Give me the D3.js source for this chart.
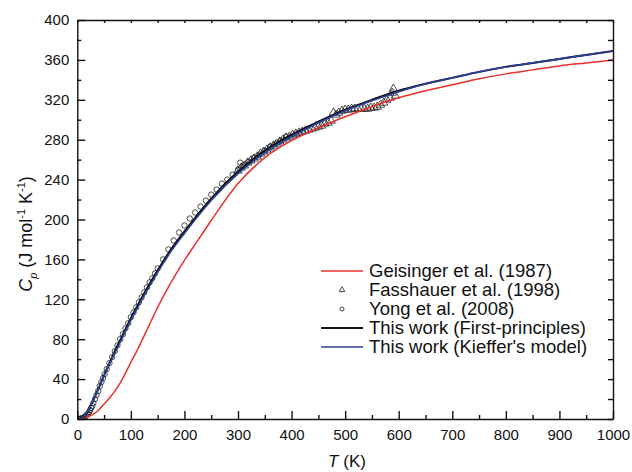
<!DOCTYPE html>
<html>
<head>
<meta charset="utf-8">
<script src="https://cdn.jsdelivr.net/npm/d3@7"></script>
<style>
  html, body { margin: 0; padding: 0; background: #fff; }
  svg { display: block; font-family: Arial, "Liberation Sans", Helvetica, sans-serif; }
</style>
</head>
<body>
<svg id="chart" width="632" height="472"></svg>
<script>
// ---- data ----
const xTicks = [0, 100, 200, 300, 400, 500, 600, 700, 800, 900, 1000];
const yTicks = [0, 40, 80, 120, 160, 200, 240, 280, 320, 360, 400];

const geisingerT  = [0, 10, 20, 30, 40, 50, 60, 70, 80, 90, 100, 110, 120, 135, 150, 175, 200, 225, 250, 300, 350, 400, 450, 500, 550, 600, 650, 700, 750, 800, 850, 900, 950, 1000];
const geisingerCp = [0, 0.5, 2.2, 5, 9, 15, 21, 28, 36, 46, 57, 67, 78, 95, 112, 137, 159, 179, 199, 236, 262, 279, 292, 303, 313, 322, 329, 335, 341, 346, 350, 354, 357, 360];

const firstT  = [0, 5, 10, 15, 20, 30, 40, 50, 60, 70, 80, 90, 100, 125, 150, 175, 200, 250, 300, 350, 400, 450, 500, 550, 600, 650, 700, 750, 800, 850, 900, 950, 1000];
const firstCp = [0, 0.2, 1.2, 3.5, 8, 19, 31, 44, 56, 68, 79, 90, 101, 126, 149, 170, 188, 221, 248, 269, 285, 298, 310, 320, 329, 336, 342, 348, 353, 357, 361, 365, 369];

const kiefferT  = [0, 5, 10, 15, 20, 30, 40, 50, 60, 70, 80, 90, 100, 125, 150, 175, 200, 250, 300, 350, 400, 450, 500, 550, 600, 650, 700, 750, 800, 850, 900, 950, 1000];
const kiefferCp = [0, 0.3, 1.5, 4, 8.5, 19, 31, 43, 55, 66, 77, 88, 99, 124, 147, 168, 186, 219, 246, 267, 283, 297, 309, 319, 328, 336, 342, 348, 353, 357, 361, 365, 369];

const fassT  = [300, 306, 312, 318, 324, 330, 336, 342, 348, 354, 360, 366, 372, 378, 384, 390, 396, 402, 408, 414, 420, 426, 432, 438, 444, 450, 456, 462, 468, 474, 478, 483, 488, 494, 500, 506, 512, 518, 524, 530, 536, 542, 548, 554, 560, 566, 572, 578, 584, 588, 590, 594];
const fassCp = [249, 252, 254, 257, 259, 261, 263, 266, 268, 270, 272, 274, 276, 278, 280, 282, 283, 285, 286, 287, 288, 289, 290, 291, 292, 293, 294, 296, 297, 299, 307, 305, 307, 309, 310, 310, 311, 311, 311, 311, 311, 311, 312, 312, 313, 315, 317, 320, 322, 327, 331, 324];

const yongT  = [2, 4, 6, 8, 10, 12, 14, 16, 18, 20, 22, 24, 26, 28, 30, 33, 36, 39, 42, 45, 48, 51, 55, 60, 65, 70, 75, 80, 85, 90, 95, 100, 105, 110, 115, 120, 125, 130, 135, 140, 145, 150, 160, 170, 180, 190, 200, 210, 220, 230, 240, 250, 260, 270, 280, 290, 300, 304, 310, 320, 330, 340, 350, 360, 370, 380, 390];
const yongCp = [0, 0, 0.3, 0.6, 1, 1.5, 2.2, 3, 4.2, 5.5, 7, 9, 11, 13, 16, 20, 24, 28, 33, 37, 41, 45, 50, 56, 62, 68, 74, 80, 85, 91, 96, 102, 107, 112, 117, 122, 127, 132, 137, 141, 146, 151, 160, 170, 179, 187, 194, 201, 207, 213, 219, 225, 230, 236, 240, 245, 250, 257, 254, 258, 262, 265, 269, 273, 276, 279, 283];

const legendLabels = ["Geisinger et al. (1987)", "Fasshauer et al. (1998)", "Yong et al. (2008)", "This work (First-principles)", "This work (Kieffer's model)"];

// ---- layout ----
const svg = d3.select("#chart");
const pLeft = 77.3, pRight = 613, pTop = 20, pBottom = 419;
const x = d3.scaleLinear().domain([0, 1000]).range([pLeft, pRight]);
const y = d3.scaleLinear().domain([0, 400]).range([pBottom, pTop]);

const RED = "#e8312a", BLUE = "#2b3f9e", BLACK = "#111";

svg.append("clipPath").attr("id", "clip")
  .append("rect").attr("x", pLeft).attr("y", pTop - 2).attr("width", pRight - pLeft).attr("height", pBottom - pTop + 2);

const plot = svg.append("g").attr("clip-path", "url(#clip)");

const line = d3.line().x(d => x(d[0])).y(d => y(d[1])).curve(d3.curveMonotoneX);
const zip = (a, b) => a.map((v, i) => [v, b[i]]);

// markers
const tri = d3.symbol().type(d3.symbolTriangle).size(30);
plot.selectAll(".tri").data(zip(fassT, fassCp)).join("path")
  .attr("transform", d => `translate(${x(d[0])},${y(d[1])})`)
  .attr("d", tri).attr("fill", "none").attr("stroke", "#222").attr("stroke-width", 0.8);

plot.selectAll(".circ").data(zip(yongT, yongCp)).join("circle")
  .attr("cx", d => x(d[0])).attr("cy", d => y(d[1])).attr("r", 2.7)
  .attr("fill", "none").attr("stroke", "#222").attr("stroke-width", 0.8);

// curves
plot.append("path").datum(zip(geisingerT, geisingerCp)).attr("d", line)
  .attr("fill", "none").attr("stroke", RED).attr("stroke-width", 1.5);
plot.append("path").datum(zip(firstT, firstCp)).attr("d", line)
  .attr("fill", "none").attr("stroke", BLACK).attr("stroke-width", 2);
plot.append("path").datum(zip(kiefferT, kiefferCp)).attr("d", line)
  .attr("fill", "none").attr("stroke", BLUE).attr("stroke-width", 1.6);

// axes
const axStyle = g => { g.selectAll("path,line").attr("stroke", "#111").attr("stroke-width", 1.4); g.selectAll("text").attr("font-size", 15).attr("fill", "#111").attr("font-family", "Arial, 'Liberation Sans', sans-serif"); };
const minorX = d3.range(50, 1000, 100), minorY = d3.range(20, 400, 40);

svg.append("g").attr("transform", `translate(0,${pBottom})`)
  .call(d3.axisBottom(x).tickValues(xTicks).tickSizeInner(-8).tickSizeOuter(0).tickPadding(10).tickFormat(d3.format("d")))
  .call(axStyle);
svg.append("g").attr("transform", `translate(0,${pBottom})`)
  .call(d3.axisBottom(x).tickValues(minorX).tickSizeInner(-4).tickSizeOuter(0).tickFormat(""))
  .call(axStyle).select(".domain").remove();
svg.append("g").attr("transform", `translate(${pLeft},0)`)
  .call(d3.axisLeft(y).tickValues(yTicks).tickSizeInner(-8).tickSizeOuter(0).tickPadding(8).tickFormat(d3.format("d")))
  .call(axStyle);
svg.append("g").attr("transform", `translate(${pLeft},0)`)
  .call(d3.axisLeft(y).tickValues(minorY).tickSizeInner(-4).tickSizeOuter(0).tickFormat(""))
  .call(axStyle).select(".domain").remove();
svg.append("g").attr("transform", `translate(0,${pTop})`)
  .call(d3.axisTop(x).tickValues(xTicks.concat(minorX)).tickSizeInner(-3).tickSizeOuter(0).tickFormat(""))
  .call(axStyle);
svg.append("g").attr("transform", `translate(${pRight},0)`)
  .call(d3.axisRight(y).tickValues(yTicks.concat(minorY)).tickSizeInner(-5).tickSizeOuter(0).tickFormat(""))
  .call(axStyle);

// axis titles
svg.append("text").attr("x", 347).attr("y", 467).attr("text-anchor", "middle")
  .attr("font-size", 17).attr("fill", "#111")
  .call(t => { t.append("tspan").attr("font-style", "italic").text("T"); t.append("tspan").text(" (K)"); });

const yl = svg.append("text").attr("transform", `translate(32,${234}) rotate(-90)`).attr("text-anchor", "middle")
  .attr("font-size", 18).attr("fill", "#111");
yl.append("tspan").attr("font-style", "italic").text("C");
yl.append("tspan").attr("font-style", "italic").attr("font-size", 11).attr("dy", 5).text("p");
yl.append("tspan").attr("dy", -5).text(" (J mol");
yl.append("tspan").attr("font-size", 11).attr("dy", -7).text("-1");
yl.append("tspan").attr("dy", 7).text(" K");
yl.append("tspan").attr("font-size", 11).attr("dy", -7).text("-1");
yl.append("tspan").attr("dy", 7).text(")");

// legend
const lg = svg.append("g");
const rowY = i => 271 + i * 19;
const kinds = ["line", "tri", "circ", "line", "line"];
const cols = [RED, "#222", "#222", BLACK, BLUE];
legendLabels.forEach((lab, i) => {
  const yy = rowY(i);
  if (kinds[i] === "line") {
    lg.append("line").attr("x1", 321).attr("x2", 363).attr("y1", yy).attr("y2", yy)
      .attr("stroke", cols[i]).attr("stroke-width", i === 3 ? 1.8 : 1.5);
  } else if (kinds[i] === "tri") {
    lg.append("path").attr("transform", `translate(342,${yy})`).attr("d", d3.symbol().type(d3.symbolTriangle).size(14)())
      .attr("fill", "none").attr("stroke", "#222").attr("stroke-width", 0.8);
  } else {
    lg.append("circle").attr("cx", 342).attr("cy", yy).attr("r", 2)
      .attr("fill", "none").attr("stroke", "#222").attr("stroke-width", 0.8);
  }
  lg.append("text").attr("x", 369).attr("y", yy).attr("dy", "0.35em")
    .attr("font-size", 18.5).attr("fill", "#111").text(lab);
});
</script>
</body>
</html>
